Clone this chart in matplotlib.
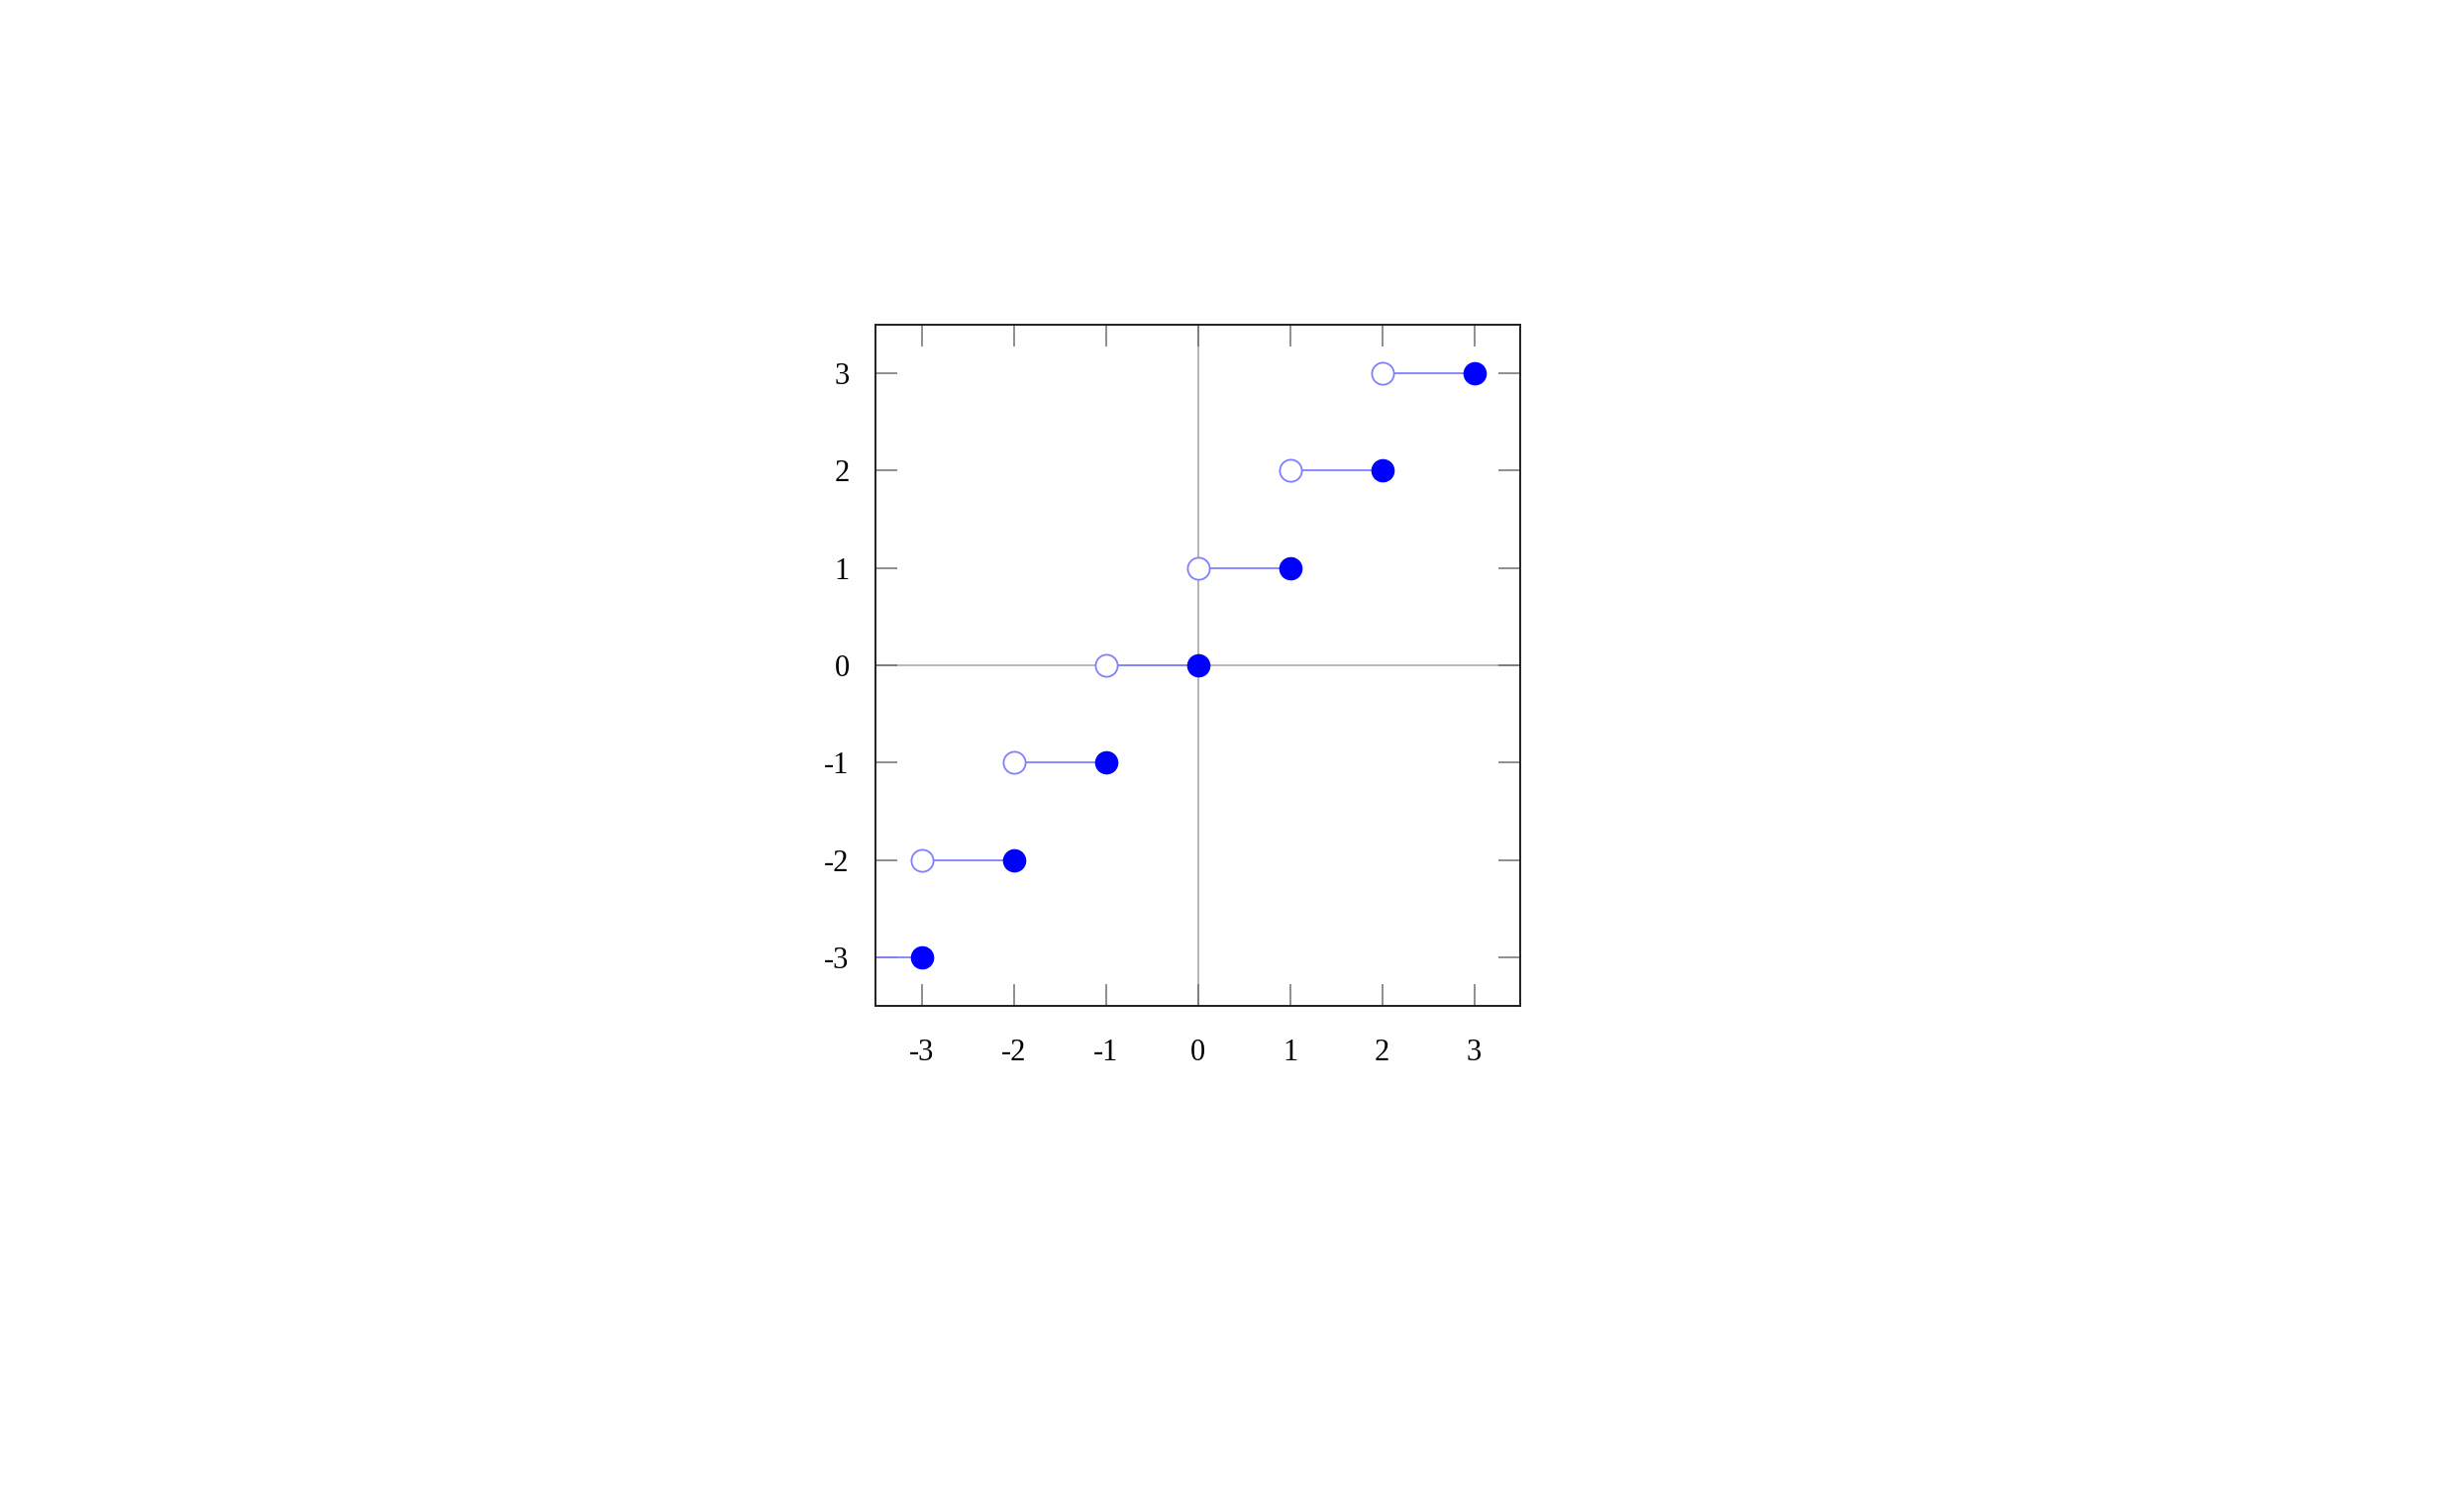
import matplotlib

matplotlib.use("Agg")
import matplotlib.pyplot as plt

plt.rcParams["font.family"] = ["Liberation Serif", "DejaVu Serif"]
plt.rcParams["axes.unicode_minus"] = False

# step function f(x) = ceil(x): value n on (n-1, n]
STEP_VALUES = [-3, -2, -1, 0, 1, 2, 3]
TICKS = [-3, -2, -1, 0, 1, 2, 3]
TICK_LABELS = ["-3", "-2", "-1", "0", "1", "2", "3"]

LINE_COLOR = "#8080ff"
DOT_COLOR = "#0000ff"

fig = plt.figure(figsize=(24.88, 15.04), dpi=100)
ax = fig.add_axes([884 / 2488, 1 - 1016 / 1504, 651 / 2488, 688 / 1504])

ax.axhline(0, color="#b0b0b0", linewidth=1.3, zorder=1)
ax.axvline(0, color="#b0b0b0", linewidth=1.3, zorder=1)

for n in STEP_VALUES:
    ax.plot([n - 1, n], [n, n], color=LINE_COLOR, linewidth=1.3, zorder=2)
    # open end on the left, closed end on the right
    ax.plot(n - 1, n, "o", markersize=16, markerfacecolor="white",
            markeredgecolor=LINE_COLOR, markeredgewidth=1.3, zorder=3)
    ax.plot(n, n, "o", markersize=16, markerfacecolor=DOT_COLOR,
            markeredgecolor=DOT_COLOR, zorder=4)

ax.set_xlim(-3.5, 3.5)
ax.set_ylim(-3.5, 3.5)
ax.set_xticks(TICKS)
ax.set_xticklabels(TICK_LABELS)
ax.set_yticks(TICKS)
ax.set_yticklabels(TICK_LABELS)
ax.tick_params(direction="in", length=16, width=1.1, color="#707070",
               top=True, right=True, labelsize=22)
ax.tick_params(axis="x", pad=24)
ax.tick_params(axis="y", pad=19)
for spine in ax.spines.values():
    spine.set_linewidth(1.4)
    spine.set_color("#202020")

fig.savefig("out.png", dpi=100)
